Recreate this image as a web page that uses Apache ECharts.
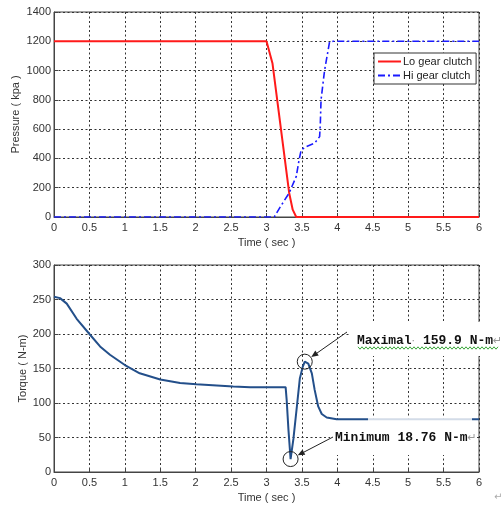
<!DOCTYPE html>
<html><head><meta charset="utf-8">
<script src="https://cdn.jsdelivr.net/npm/echarts@6/dist/echarts.min.js"></script>
<style>html,body{margin:0;padding:0;background:#fff}#c{width:503px;height:505px}</style>
</head><body><div id="c"></div>
<script>
// ---- data ----
const timeTicks = [0, 0.5, 1, 1.5, 2, 2.5, 3, 3.5, 4, 4.5, 5, 5.5, 6];
const pressureTicks = [0, 200, 400, 600, 800, 1000, 1200, 1400];
const torqueTicks = [0, 50, 100, 150, 200, 250, 300];

const loTime     = [0, 3.0, 3.085, 3.32, 3.37, 3.42, 6];
const loPressure = [1200, 1200, 1048, 164, 50, 0, 0];

const hiTime     = [0, 3.11, 3.2, 3.32, 3.42, 3.46, 3.49, 3.56, 3.68, 3.75, 3.76, 3.77, 3.82, 3.89, 3.94, 6];
const hiPressure = [0, 0, 73, 164, 277, 390, 458, 481, 504, 549, 640, 800, 1002, 1195, 1200, 1200];

const torqueTime = [0, 0.085, 0.18, 0.32, 0.5, 0.65, 0.79, 1.0, 1.21, 1.5, 1.78, 2.01, 2.53, 2.77, 3.0, 3.27, 3.285, 3.31, 3.34, 3.38, 3.43, 3.47, 3.51, 3.54, 3.59, 3.64, 3.68, 3.73, 3.78, 3.85, 3.99, 6];
const torque     = [254, 252, 244, 222, 200, 182, 170, 155, 143, 134, 129, 127, 124, 123, 123, 123, 104, 61, 18.76, 48, 96, 135, 152, 159.9, 157, 143, 119, 95, 84, 79, 76.5, 76.5];

const seriesNames = ['Lo gear clutch', 'Hi gear clutch'];
const maxLabel = 'Maximal';
const maxValueText = ' 159.9 N-m';
const minLabel = 'Minimum 18.76 N-m';

// ---- chart ----
const FONT = 'Liberation Sans, Arial, sans-serif';
const chart = echarts.init(document.getElementById('c'), null, {renderer: 'canvas'});

function xAx(gi) {
  return {
    type: 'value', gridIndex: gi, min: timeTicks[0], max: timeTicks[timeTicks.length - 1],
    interval: timeTicks[1] - timeTicks[0],
    name: 'Time ( sec )', nameLocation: 'middle', nameGap: 20,
    nameTextStyle: {color: '#333', fontSize: 11, fontFamily: FONT},
    axisLine: {onZero: false, lineStyle: {color: '#444', width: 1}},
    axisTick: {inside: true, length: 4, lineStyle: {color: '#444'}},
    axisLabel: {color: '#333', fontSize: 11, fontFamily: FONT, margin: 5, formatter: v => String(v)},
    splitLine: {show: true, lineStyle: {type: [2, 2.5], color: '#333', width: 1}}
  };
}
function yAx(gi, ticks, name, gap) {
  return {
    type: 'value', gridIndex: gi, min: ticks[0], max: ticks[ticks.length - 1],
    interval: ticks[1] - ticks[0],
    name: name, nameLocation: 'middle', nameGap: gap, nameMoveOverlap: false,
    nameTextStyle: {color: '#333', fontSize: 11, fontFamily: FONT},
    axisLine: {show: true, lineStyle: {color: '#444', width: 1}},
    axisTick: {show: true, inside: true, length: 4, lineStyle: {color: '#444'}},
    axisLabel: {color: '#333', fontSize: 11, fontFamily: FONT, margin: 3, formatter: v => String(v)},
    splitLine: {show: true, lineStyle: {type: [2, 2.5], color: '#333', width: 1}}
  };
}

const iMax = torque.indexOf(Math.max(...torque.slice(15)));
const iMin = torque.indexOf(Math.min(...torque));

chart.setOption({
  animation: false,
  backgroundColor: '#fff',
  grid: [
    {left: 54, top: 12, width: 425, height: 205, show: true, borderColor: '#444', borderWidth: 1, backgroundColor: '#fff', outerBoundsMode: 'none', containLabel: false},
    {left: 54, top: 265, width: 425, height: 207, show: true, borderColor: '#444', borderWidth: 1, backgroundColor: '#fff', outerBoundsMode: 'none', containLabel: false}
  ],
  xAxis: [xAx(0), xAx(1)],
  yAxis: [yAx(0, pressureTicks, 'Pressure ( kpa )', 33), yAx(1, torqueTicks, 'Torque ( N-m)', 26)],
  legend: {
    data: seriesNames, orient: 'vertical', left: 374, top: 53,
    itemWidth: 23, itemHeight: 12, itemGap: 3,
    padding: [3, 4, 3, 3], borderColor: '#333', borderWidth: 1, backgroundColor: '#fff',
    itemStyle: {opacity: 0},
    textStyle: {color: '#222', fontSize: 11, fontFamily: FONT, padding: [0, 0, 0, -3]}
  },
  series: [
    {
      type: 'line', name: seriesNames[0], xAxisIndex: 0, yAxisIndex: 0,
      data: loTime.map((t, i) => [t, loPressure[i]]), symbol: 'none',
      lineStyle: {color: '#ff1a1a', width: 2}, itemStyle: {color: '#ff1a1a'}, z: 3
    },
    {
      type: 'line', name: seriesNames[1], xAxisIndex: 0, yAxisIndex: 0,
      data: hiTime.map((t, i) => [t, hiPressure[i]]), symbol: 'none',
      lineStyle: {color: '#1a1aff', width: 1.6, type: [7, 3, 2, 3]}, itemStyle: {color: '#1a1aff'}, z: 4
    },
    {
      type: 'line', name: 'Torque', xAxisIndex: 1, yAxisIndex: 1,
      data: torqueTime.map((t, i) => [t, torque[i]]), symbol: 'none',
      lineStyle: {color: '#234f8a', width: 2}, itemStyle: {color: '#234f8a'}, z: 3,
      markPoint: {
        symbol: 'circle', symbolSize: 15, silent: true,
        itemStyle: {color: 'rgba(0,0,0,0)', borderColor: '#222', borderWidth: 1},
        label: {show: false},
        data: [
          {coord: [torqueTime[iMax], torque[iMax]]},
          {coord: [torqueTime[iMin], torque[iMin]]}
        ]
      }
    }
  ]
});

function arrow(x1, y1, x2, y2) {
  const dx = x2 - x1, dy = y2 - y1, L = Math.hypot(dx, dy), ux = dx / L, uy = dy / L;
  const hl = 7, hw = 3;
  const bx = x2 - ux * hl, by = y2 - uy * hl;
  return [
    {type: 'line', z: 100, shape: {x1: x1, y1: y1, x2: bx, y2: by}, style: {stroke: '#222', lineWidth: 1}},
    {type: 'polygon', z: 100, shape: {points: [[x2, y2], [bx - uy * hw, by + ux * hw], [bx + uy * hw, by - ux * hw]]}, style: {fill: '#222'}}
  ];
}
function toward(c, s, r) {
  const dx = s[0] - c[0], dy = s[1] - c[1], L = Math.hypot(dx, dy);
  return [c[0] + dx / L * r, c[1] + dy / L * r];
}

const pMax = chart.convertToPixel({gridIndex: 1}, [torqueTime[iMax], torque[iMax]]);
const pMin = chart.convertToPixel({gridIndex: 1}, [torqueTime[iMin], torque[iMin]]);
const sMax = [347, 332], sMin = [333, 437];
const eMax = toward(pMax, sMax, 8), eMin = toward(pMin, sMin, 8);

const wave = [];
for (let x = 358, k = 0; x <= 498; x += 2, k++) wave.push([x, 348 + (k % 2 ? 1.2 : -1.2)]);

const ANN = 'bold 13px "Liberation Mono", "DejaVu Sans Mono", monospace';
const graphics = [
  {type: 'rect', z: 90, shape: {x: 350, y: 322, width: 153, height: 34}, style: {fill: '#fff'}},
  {type: 'rect', z: 90, shape: {x: 368, y: 416.5, width: 104, height: 4.5}, style: {fill: 'rgba(255,255,255,0.8)'}},
  {type: 'rect', z: 90, shape: {x: 330, y: 421, width: 146, height: 34}, style: {fill: '#fff'}},
  {type: 'text', z: 101, x: 357, y: 341, style: {
    text: '{a|' + maxLabel + '}{g|·}{a|' + maxValueText + '}{g|↵}',
    verticalAlign: 'middle',
    rich: {a: {font: ANN, fill: '#111'}, g: {font: '11px "DejaVu Sans"', fill: '#999'}}
  }},
  {type: 'polyline', z: 101, shape: {points: wave}, style: {stroke: '#3aa63a', lineWidth: 1, fill: null}},
  {type: 'text', z: 101, x: 335, y: 438, style: {
    text: '{a|' + minLabel + '}{g|↵}',
    verticalAlign: 'middle',
    rich: {a: {font: ANN, fill: '#111'}, g: {font: '11px "DejaVu Sans"', fill: '#999'}}
  }},
  {type: 'text', z: 101, x: 494, y: 497, style: {text: '↵', font: '10px "DejaVu Sans"', fill: '#aaa', verticalAlign: 'middle'}}
].concat(arrow(sMax[0], sMax[1], eMax[0], eMax[1]), arrow(sMin[0], sMin[1], eMin[0], eMin[1]));

chart.setOption({graphic: graphics});
</script>
</body></html>
